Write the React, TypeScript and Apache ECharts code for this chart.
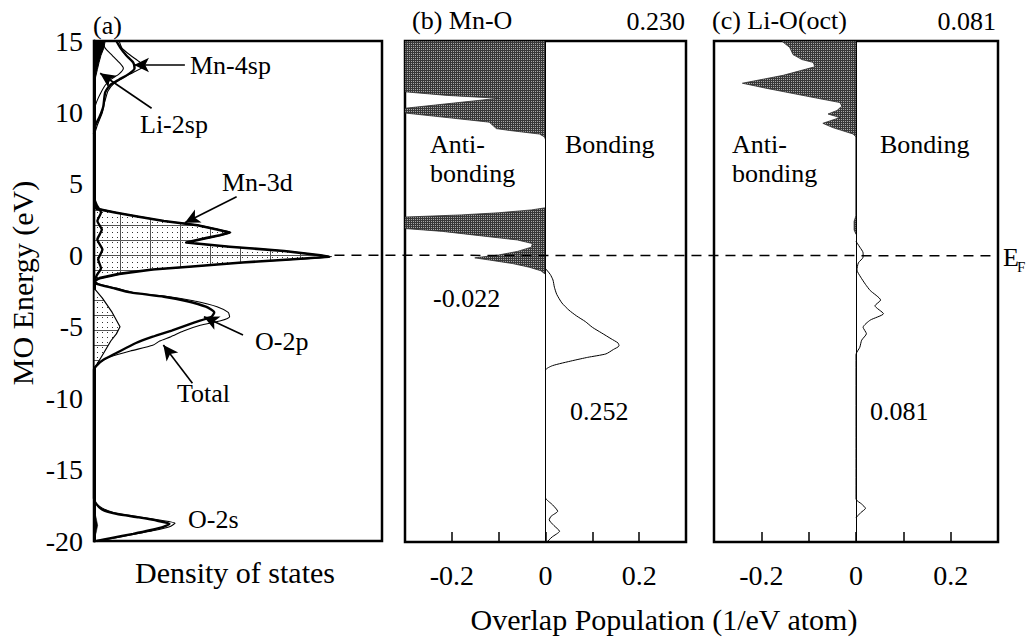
import React, { useEffect, useRef } from 'react';
import * as echarts from 'echarts';

// ---------- Panel (a): density of states, [DOS, energy(eV)] ----------
const totalDos: number[][] = [
  [9, 15], [10, 14.5], [13, 14], [16.5, 13.5], [17.5, 13.2], [14, 12.8], [11, 12.5], [7, 12], [5, 11.5], [4.2, 11],
  [3.5, 10.5], [3, 10], [2, 9.5], [1, 9], [0.3, 8.5], [0, 8],
  [0, 3.7], [1.5, 3.3], [8, 3.0], [16.5, 2.7], [25.5, 2.4], [37.5, 2.1], [44.5, 1.8], [49, 1.6], [45.5, 1.4], [40.5, 1.2],
  [33.5, 0.9], [49, 0.6], [68.5, 0.3], [81.5, 0.0], [85, -0.1], [71, -0.3], [53.5, -0.5], [34.5, -0.8], [21.5, -1.0],
  [9.5, -1.3], [2.5, -1.6], [0.5, -1.8],
  [1.5, -2.0], [8, -2.3], [14, -2.6], [27, -2.9], [36, -3.2], [44, -3.6], [48, -4.0], [48.5, -4.3], [45, -4.6], [38, -4.9],
  [32, -5.3], [27.5, -5.7], [23.5, -6.0], [21, -6.3], [13, -6.7], [6, -7.1], [2, -7.5], [0.5, -7.8], [0, -8.0],
  [0, -16.8], [0.5, -17.3], [3, -17.7], [7, -18.0], [16, -18.3], [24, -18.55], [29, -18.75], [27, -19.0], [22, -19.25],
  [15, -19.5], [7, -19.8], [1, -20],
];

const o2pDos: number[][] = [
  [0, 4], [1, 3.5], [2.5, 3], [1.2, 2.4], [2.8, 1.8], [1.2, 1.1], [3, 0.4], [1.5, -0.3], [2.5, -0.9], [1, -1.4], [0.3, -1.8],
  [1, -2.0], [7, -2.3], [13, -2.6], [25, -2.9], [33, -3.2], [40, -3.6], [43, -4.0], [42, -4.3], [36, -4.7], [28, -5.25],
  [21, -5.7], [15, -6.14], [8, -6.84], [3.5, -7.3], [1, -7.7], [0, -8.0],
  [0, -17], [0.8, -17.4], [3, -17.8], [8, -18.1], [16, -18.35], [23, -18.6], [27, -18.8], [25, -19.0], [20, -19.25],
  [14, -19.5], [6, -19.8], [1, -20],
];

const mn3dDosUpper: number[][] = [
  [0, 3.5], [1, 3.25], [7.5, 3.0], [16, 2.7], [25, 2.4], [37, 2.1], [44, 1.8], [48.5, 1.6], [45, 1.4], [40, 1.2], [33, 0.9],
  [48.5, 0.6], [68, 0.3], [81, 0.0], [84, -0.1], [70, -0.3], [53, -0.5], [34, -0.8], [21, -1.0], [9, -1.3], [2, -1.6], [0, -1.8],
];

const mn3dDosLower: number[][] = [
  [0, -2.3], [3, -3.0], [6.5, -4.0], [9.3, -5.0], [8, -5.5], [6, -6.0], [3, -7.0], [0.5, -7.8], [0, -8.0],
];

const mn4spDos: number[][] = [
  [8, 15], [9.5, 14.5], [11.5, 14], [14, 13.5], [14.5, 13.1], [12.5, 12.7], [9, 12.3], [5.7, 11.9], [4, 11.4], [3.3, 10.4],
  [2, 9.7], [0.5, 9.1], [0, 8.5],
];

const li2spDos: number[][] = [
  [3, 15], [4, 14.5], [6.5, 14], [9, 13.5], [10.5, 13.1], [9, 12.7], [6, 12.3], [4, 11.9], [2.5, 11.4], [1.5, 11], [0.5, 10.5], [0, 10],
];

const darkDosTop: number[][] = [
  [4, 15], [3.5, 14.5], [2.5, 14], [1.8, 13.5], [1.2, 13], [0.6, 12.5], [0.2, 12], [0, 11.5],
];

const darkDosBottom: number[][] = [
  [0, -17.8], [0.8, -18.4], [1.3, -18.9], [0.8, -19.4], [0, -19.9],
];

// annotation arrows: [fromDOS, fromE, toDOS, toE]
const dosArrows: number[][] = [
  [32.5, 13.32, 14.3, 13.32],
  [20.6, 10.29, 2.2, 12.74],
  [51, 4.1, 32.5, 2.28],
  [53.3, -5.58, 39.3, -4.3],
  [35.2, -8.96, 24.8, -6.28],
];

// ---------- Panel (b): Mn-O COOP, [overlap, energy] ----------
const mnoAntibonding: number[][] = [
  [-0.3, 15], [-0.3, 11.45], [-0.21, 11.2], [-0.1, 11.0], [-0.2, 10.65], [-0.3, 10.3], [-0.3, 9.97], [-0.204, 9.63],
  [-0.12, 9.33], [-0.105, 8.88], [-0.077, 8.75], [-0.013, 8.5], [-0.002, 8.3], [0, 8.1],
  [0, 3.35], [-0.03, 3.2], [-0.1, 3.0], [-0.18, 2.85], [-0.3, 2.7], [-0.3, 1.9], [-0.22, 1.7], [-0.14, 1.4], [-0.06, 1.1],
  [-0.028, 0.85], [-0.03, 0.6], [-0.06, 0.3], [-0.1, 0.05], [-0.151, -0.15], [-0.12, -0.3], [-0.07, -0.55], [-0.035, -0.8],
  [-0.01, -1.05], [0, -1.3],
];

const mnoBonding: number[][] = [
  [0, -0.9], [0.01, -1.3], [0.016, -1.7], [0.019, -2.2], [0.024, -2.7], [0.035, -3.3], [0.05, -3.8], [0.066, -4.2],
  [0.085, -4.6], [0.1, -5.0], [0.12, -5.4], [0.14, -5.8], [0.155, -6.1], [0.157, -6.3], [0.145, -6.55], [0.129, -6.86],
  [0.09, -7.1], [0.058, -7.33], [0.015, -7.68], [0, -8.0],
  [0, -16.9], [0.015, -17.4], [0.026, -17.85], [0.012, -18.2], [0.008, -18.45], [0.018, -18.85], [0.03, -19.25],
  [0.014, -19.65], [0.003, -20],
];

// ---------- Panel (c): Li-O(oct) COOP ----------
const lioAntibonding: number[][] = [
  [-0.157, 15], [-0.14, 14.55], [-0.133, 14.05], [-0.114, 13.7], [-0.09, 13.5], [-0.087, 13.2], [-0.154, 12.6],
  [-0.24, 12.05], [-0.19, 11.7], [-0.097, 11.1], [-0.034, 10.7], [-0.03, 10.45], [-0.04, 10.15], [-0.059, 9.9],
  [-0.034, 9.65], [-0.07, 9.25], [-0.049, 8.95], [-0.006, 8.5], [0, 8.3],
  [0, 2.8], [-0.004, 2.4], [-0.004, 1.8], [0, 1.5],
];

const lioBonding: number[][] = [
  [0, 1.0], [0.008, 0.6], [0.015, 0.2], [0.015, -0.1], [0.005, -0.5], [0.002, -1.0], [0.01, -1.5], [0.02, -2.0],
  [0.03, -2.43], [0.052, -3.1], [0.04, -3.5], [0.058, -4.05], [0.03, -4.5], [0.015, -5.0], [0.022, -5.45], [0.012, -5.9],
  [0.008, -6.4], [0, -6.9],
  [0, -17.0], [0.012, -17.35], [0.02, -17.65], [0.01, -17.95], [0, -18.3],
];

const overlapTickValues = [-0.2, 0, 0.2];
const overlapTickLabels = ['-0.2', '0', '0.2'];

const FONT = "'Liberation Serif', 'Times New Roman', serif";

function makeCanvas(w: number, h: number, draw: (g: CanvasRenderingContext2D) => void) {
  const c = document.createElement('canvas');
  c.width = w;
  c.height = h;
  const g = c.getContext('2d')!;
  draw(g);
  return c;
}

function fillSeries(name: string, points: number[][], gi: number, fill: any, stroke: string, lw: number) {
  return {
    type: 'custom',
    name,
    xAxisIndex: gi,
    yAxisIndex: gi,
    clip: true,
    silent: true,
    z: 1,
    data: points,
    encode: { x: 0, y: 1 },
    renderItem: (params: any, api: any) => {
      if (params.dataIndex !== 0) return null;
      const pts: number[][] = [api.coord([0, points[0][1]])];
      for (const p of points) pts.push(api.coord(p));
      pts.push(api.coord([0, points[points.length - 1][1]]));
      return {
        type: 'polygon',
        shape: { points: pts },
        style: { fill, stroke, lineWidth: lw, lineJoin: 'round' },
      };
    },
  };
}

function lineSeries(name: string, points: number[][], gi: number, width: number, extra: any = {}) {
  return {
    type: 'line',
    name,
    xAxisIndex: gi,
    yAxisIndex: gi,
    data: points,
    showSymbol: false,
    smooth: 0.2,
    silent: true,
    z: 3,
    lineStyle: { color: '#000', width },
    ...extra,
  };
}

function txt(text: string, x: number, y: number, size: number, align = 'left', extra: any = {}) {
  return {
    type: 'text',
    x,
    y,
    silent: true,
    z: 10,
    ...extra,
    style: {
      text,
      fill: '#000',
      fontSize: size,
      fontFamily: FONT,
      font: `${size}px ${FONT}`,
      align,
      textAlign: align,
      verticalAlign: 'middle',
      textVerticalAlign: 'middle',
    },
  };
}

export default function App() {
  const ref = useRef<HTMLDivElement>(null);

  useEffect(() => {
    const el = ref.current!;
    const chart = echarts.init(el, null, { renderer: 'svg' });

    const mn3dPattern = makeCanvas(30, 15, (g) => {
      g.fillStyle = '#fff';
      g.fillRect(0, 0, 30, 15);
      g.fillStyle = '#333';
      for (let x = 2; x < 30; x += 5) for (let y = 2; y < 15; y += 5) g.fillRect(x, y, 1, 1);
      g.fillStyle = '#555';
      g.fillRect(0, 0, 30, 1);
      g.fillRect(0, 0, 1, 15);
    });
    const antiPattern = makeCanvas(2, 2, (g) => {
      g.fillStyle = '#383838';
      g.fillRect(0, 0, 2, 2);
      g.fillStyle = '#a8a8a8';
      g.fillRect(1, 1, 1, 1);
    });

    const grids = [
      { left: 94, top: 41, width: 288, height: 500 },
      { left: 405, top: 41, width: 281, height: 501 },
      { left: 714, top: 41, width: 284, height: 501 },
    ].map((g) => ({ ...g, show: true, borderColor: '#000', borderWidth: 2.5, backgroundColor: 'transparent' }));

    const energyAxis = (gi: number) => ({
      type: 'value',
      gridIndex: gi,
      min: -20,
      max: 15,
      interval: 5,
      axisLine: gi === 0 ? { show: true, onZero: false, lineStyle: { color: '#000', width: 3 } } : { show: false },
      axisTick: { show: false },
      splitLine: { show: false },
      axisLabel: gi === 0
        ? { show: true, color: '#000', fontSize: 28, fontFamily: FONT, margin: 11 }
        : { show: false },
    });

    const overlapAxis = (gi: number) => ({
      type: 'value',
      gridIndex: gi,
      min: -0.3,
      max: 0.3,
      interval: 0.1,
      axisLine: { show: false, onZero: false },
      axisTick: { show: true, inside: true, length: 10, lineStyle: { color: '#000', width: 1.5 } },
      splitLine: { show: false },
      axisLabel: {
        color: '#000',
        fontSize: 28,
        fontFamily: FONT,
        margin: 19,
        formatter: (v: number) => {
          const i = overlapTickValues.findIndex((t) => Math.abs(t - v) < 1e-6);
          return i >= 0 ? overlapTickLabels[i] : '';
        },
      },
    });

    const zeroLine = {
      silent: true,
      symbol: ['none', 'none'],
      label: { show: false },
      lineStyle: { type: 'solid', color: '#000', width: 1 },
      data: [{ xAxis: 0 }],
    };

    const option: any = {
      animation: false,
      backgroundColor: '#fff',
      textStyle: { fontFamily: FONT },
      grid: grids,
      xAxis: [
        { type: 'value', gridIndex: 0, min: 0, max: 103, axisLine: { show: false, onZero: false }, axisTick: { show: false }, axisLabel: { show: false }, splitLine: { show: false } },
        overlapAxis(1),
        overlapAxis(2),
      ],
      yAxis: [energyAxis(0), energyAxis(1), energyAxis(2)],
      series: [
        fillSeries('Mn-3d', mn3dDosUpper, 0, { image: mn3dPattern, repeat: 'repeat' }, '#000', 2.6),
        fillSeries('Mn-3d (lower)', mn3dDosLower, 0, { image: mn3dPattern, repeat: 'repeat' }, '#000', 1.2),
        fillSeries('dark top', darkDosTop, 0, '#000', '#000', 1),
        fillSeries('dark bottom', darkDosBottom, 0, '#000', '#000', 0.5),
        lineSeries('Total', totalDos, 0, 1.1, {
          markLine: {
            silent: true,
            symbol: ['none', 'arrow'],
            symbolSize: [11, 15],
            label: { show: false },
            lineStyle: { type: 'solid', color: '#000', width: 1.6 },
            data: dosArrows.map((a) => [{ coord: [a[0], a[1]] }, { coord: [a[2], a[3]] }]),
          },
        }),
        lineSeries('O-2p', o2pDos, 0, 2.4),
        lineSeries('Mn-4sp', mn4spDos, 0, 2.4),
        lineSeries('Li-2sp', li2spDos, 0, 1.1),
        fillSeries('Mn-O antibonding', mnoAntibonding, 1, { image: antiPattern, repeat: 'repeat' }, '#2a2a2a', 0.8),
        lineSeries('Mn-O bonding', mnoBonding, 1, 1, { markLine: zeroLine }),
        fillSeries('Li-O antibonding', lioAntibonding, 2, { image: antiPattern, repeat: 'repeat' }, '#2a2a2a', 0.8),
        lineSeries('Li-O bonding', lioBonding, 2, 1, { markLine: zeroLine }),
      ],
    };
    chart.setOption(option);

    const p1 = chart.convertToPixel({ xAxisIndex: 0, yAxisIndex: 0 } as any, [86, 0]) as number[];
    const p2 = chart.convertToPixel({ xAxisIndex: 2, yAxisIndex: 2 } as any, [0.3, 0]) as number[];

    chart.setOption({
      graphic: {
        elements: [
          {
            type: 'line',
            silent: true,
            z: 9,
            shape: { x1: p1[0], y1: p1[1], x2: p2[0], y2: p2[1] },
            style: { stroke: '#000', lineWidth: 1.5, lineDash: [10, 7] },
          },
          txt('(a)', 93, 25, 26),
          txt('(b) Mn-O', 412, 20, 26),
          txt('0.230', 685, 21, 26, 'right'),
          txt('(c) Li-O(oct)', 712, 20, 26),
          txt('0.081', 996, 21, 26, 'right'),
          txt('Anti-', 430, 144, 26),
          txt('bonding', 430, 173, 26),
          txt('Bonding', 565, 144, 26),
          txt('Anti-', 732, 144, 26),
          txt('bonding', 732, 173, 26),
          txt('Bonding', 880, 144, 26),
          txt('-0.022', 433, 298, 26),
          txt('0.252', 570, 411, 26),
          txt('0.081', 870, 411, 26),
          txt('Mn-4sp', 190, 65, 26),
          txt('Li-2sp', 140, 124, 26),
          txt('Mn-3d', 222, 182, 26),
          txt('O-2p', 255, 341, 26),
          txt('Total', 177, 393, 26),
          txt('O-2s', 188, 519, 26),
          txt('Density of states', 235, 572, 30, 'center'),
          txt('Overlap Population (1/eV atom)', 664, 619, 30, 'center'),
          txt('MO Energy (eV)', 22, 283, 30, 'center', { rotation: Math.PI / 2 }),
          txt('E', p2[0] + 5, 257, 26),
          txt('F', p2[0] + 19, 267, 15),
        ],
      },
    });

    return () => chart.dispose();
  }, []);

  return <div ref={ref} style={{ position: 'fixed', left: 0, top: 0, width: 1035, height: 639 }} />;
}
